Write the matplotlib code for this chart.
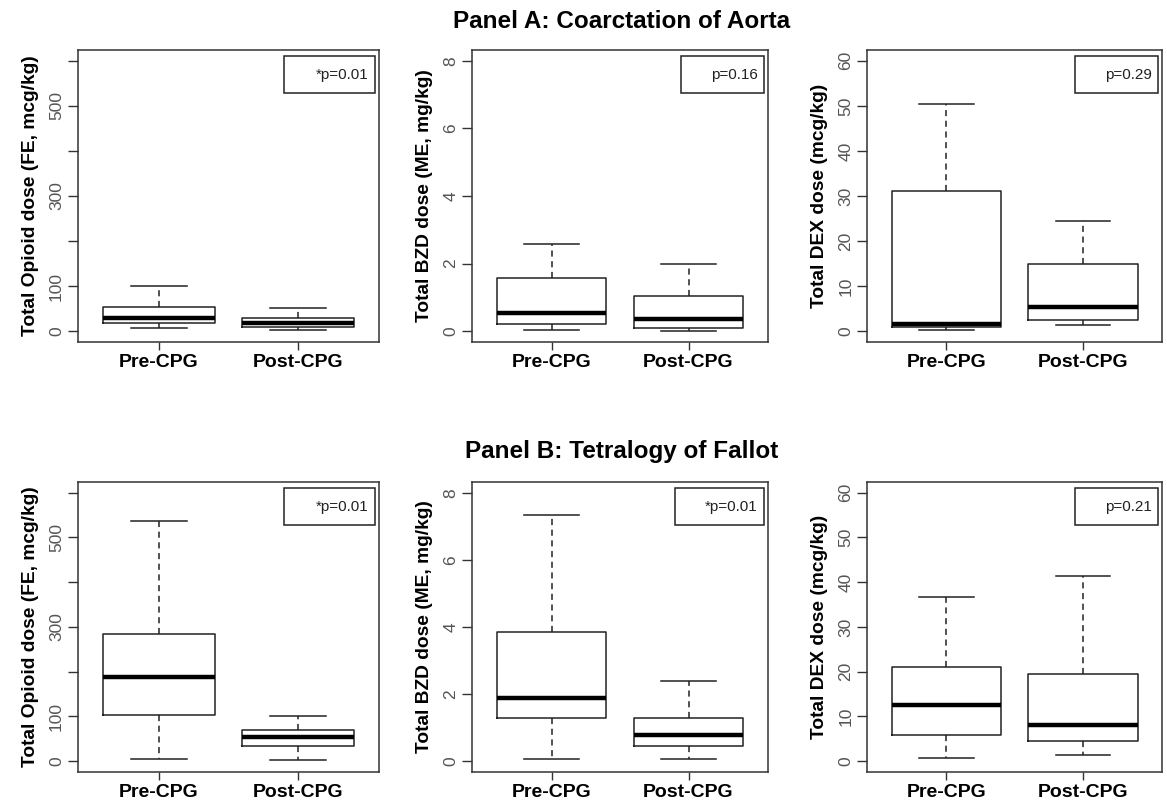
import matplotlib
matplotlib.use('Agg')
import matplotlib.pyplot as plt
from matplotlib.patches import Rectangle

plt.rcParams['font.family'] = ['Liberation Sans', 'DejaVu Sans']

groups = ['Pre-CPG', 'Post-CPG']

# five-number summaries per group: [whisker low, q1, median, q3, whisker high]
a_opioid = [[6, 18, 29, 53, 100], [2, 10, 18, 30, 52]]
a_bzd = [[0.03, 0.2, 0.53, 1.56, 2.57], [0.0, 0.1, 0.37, 1.05, 2.0]]
a_dex = [[0.3, 0.9, 1.65, 31.1, 50.5], [1.35, 2.4, 5.4, 14.8, 24.4]]
b_opioid = [[5, 103, 189, 285, 536], [2, 35, 54, 69, 101]]
b_bzd = [[0.07, 1.29, 1.88, 3.84, 7.33], [0.07, 0.44, 0.78, 1.29, 2.4]]
b_dex = [[0.7, 5.9, 12.6, 21.0, 36.8], [1.3, 4.5, 8.0, 19.4, 41.5]]

p_a = ['*p=0.01', 'p=0.16', 'p=0.29']
p_b = ['*p=0.01', '*p=0.01', 'p=0.21']

ylabels = ['Total Opioid dose (FE, mcg/kg)', 'Total BZD dose (ME, mg/kg)',
           'Total DEX dose (mcg/kg)']
ytick_vals = [[0, 100, 200, 300, 400, 500, 600], [0, 2, 4, 6, 8],
              [0, 10, 20, 30, 40, 50, 60]]
ytick_txt = [['0', '100', '', '300', '', '500', ''], ['0', '2', '4', '6', '8'],
             ['0', '10', '20', '30', '40', '50', '60']]
ymax = [600, 8, 60]

fig = plt.figure(figsize=(11.67, 8.06), dpi=100)

lefts = [0.0668, 0.4045, 0.743]
widths = [0.258, 0.2536, 0.2528]
rows = [(0.5757, 0.3623), (0.0422, 0.3598)]

data = [[a_opioid, a_bzd, a_dex], [b_opioid, b_bzd, b_dex]]
pvals = [p_a, p_b]

for r in range(2):
    for c in range(3):
        ax = fig.add_axes([lefts[c], rows[r][0], widths[c], rows[r][1]])
        stats = []
        for g, v in zip(groups, data[r][c]):
            stats.append(dict(label=g, whislo=v[0], q1=v[1], med=v[2],
                              q3=v[3], whishi=v[4], fliers=[]))
        ax.bxp(stats, positions=[1, 2], widths=0.8, capwidths=0.4,
               showfliers=False,
               boxprops=dict(color='#222222', linewidth=1.1),
               whiskerprops=dict(color='#222222', linewidth=1.1,
                                 linestyle=(0, (4, 3))),
               capprops=dict(color='#222222', linewidth=1.1),
               medianprops=dict(color='black', linewidth=3.2))
        ax.set_xlim(0.42, 2.58)
        ax.set_ylim(-0.04 * ymax[c], 1.04 * ymax[c])
        ax.set_yticks(ytick_vals[c])
        ax.set_yticklabels(ytick_txt[c], rotation=90, va='center',
                           color='#555555', fontsize=12.5)
        ax.set_xticks([1, 2])
        ax.set_xticklabels(groups, fontsize=14, fontweight='bold')
        ax.tick_params(axis='y', length=7, width=1, pad=3, color='#333333')
        ax.tick_params(axis='x', length=6, width=1, pad=3, color='#333333')
        ax.set_ylabel(ylabels[c], fontsize=13.8, fontweight='bold', labelpad=7)
        for s in ax.spines.values():
            s.set_linewidth(1.1)
            s.set_color('#333333')

        # p-value box, top right
        txt = pvals[r][c]
        bw = 0.30 if txt.startswith('*') else 0.28
        ax.add_patch(Rectangle((0.985 - bw, 0.853), bw, 0.125,
                               transform=ax.transAxes, fill=False,
                               edgecolor='#222222', linewidth=1.1))
        ax.text(0.965, 0.915, txt, transform=ax.transAxes, ha='right',
                va='center', fontsize=11, color='#222222')

fig.text(0.533, 0.973, 'Panel A: Coarctation of Aorta', ha='center',
         va='center', fontsize=17.5, fontweight='bold')
fig.text(0.533, 0.44, 'Panel B: Tetralogy of Fallot', ha='center',
         va='center', fontsize=17.5, fontweight='bold')

fig.savefig('out.png', dpi=100)
